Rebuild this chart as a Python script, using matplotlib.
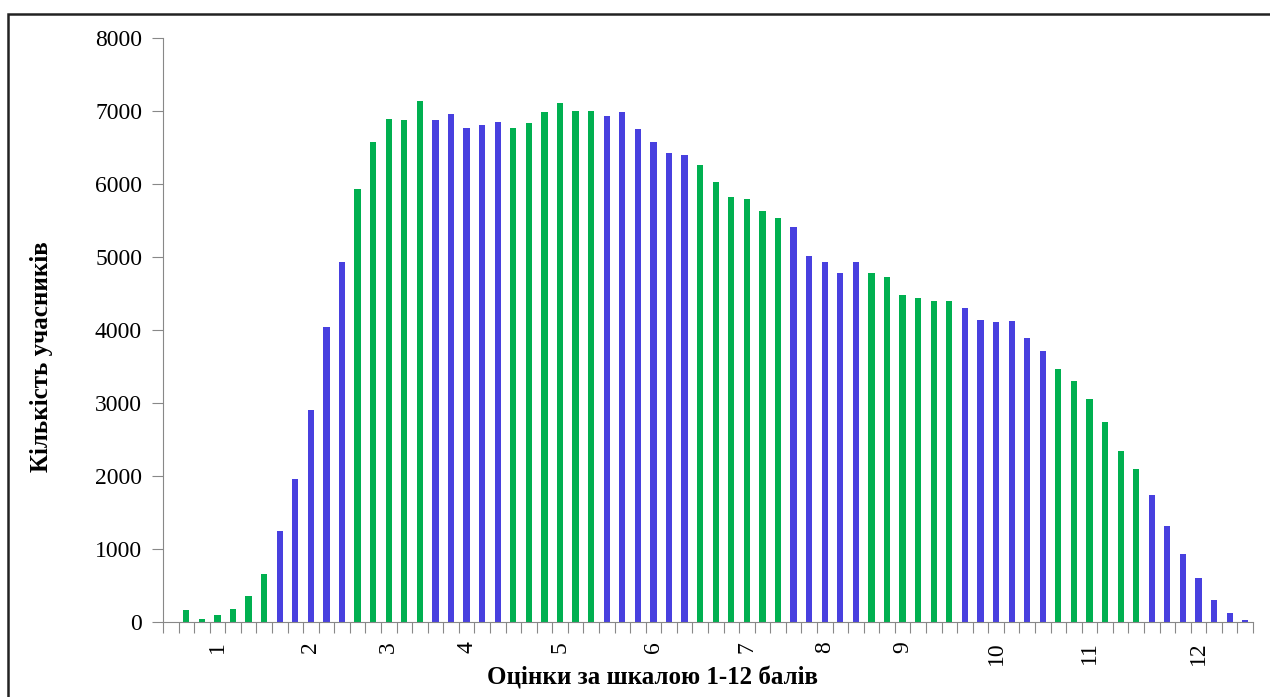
import matplotlib.pyplot as plt
from matplotlib.patches import Rectangle

# number of participants per test-score category (70 categories)
counts = [0, 164, 45, 96, 178, 355, 650,
          1250, 1960, 2905, 4037, 4936,
          5927, 6575, 6886, 6872, 7137,
          6872, 6959, 6767, 6813, 6854,
          6767, 6840, 6986, 7105, 7000, 7000,
          6927, 6986, 6749, 6571, 6425, 6397,
          6265, 6027, 5822, 5795, 5630, 5530,
          5411, 5014, 4936, 4776, 4927,
          4776, 4730, 4479, 4434, 4393, 4393,
          4301, 4141, 4114, 4128, 3890, 3712,
          3466, 3301, 3050, 2740, 2342, 2087,
          1735, 1315, 930, 600, 300, 115, 20]

# how many categories fall into each grade 1..12
group_sizes = [7, 5, 5, 5, 6, 6, 6, 5, 6, 6, 6, 7]
grades = ['1', '2', '3', '4', '5', '6', '7', '8', '9', '10', '11', '12']
# category (1-based) where each grade label is shown
label_pos = [4, 10, 15, 20, 26, 32, 38, 43, 48, 54, 60, 67]

green = '#00B050'
blue = '#4840DF'

colors = []
for i, n in enumerate(group_sizes):
    colors += [green if i % 2 == 0 else blue] * n

plt.rcParams['font.family'] = ['Liberation Serif', 'DejaVu Serif']

fig = plt.figure(figsize=(12.7, 6.97), dpi=100)
ax = fig.add_axes([0.1283, 0.1079, 0.8583, 0.8376])

x = list(range(len(counts)))
ax.bar(x, counts, width=0.4, color=colors, edgecolor='none')

ax.set_xlim(-0.5, len(counts) - 0.5)
ax.set_ylim(0, 8000)
ax.set_yticks(range(0, 8001, 1000))
ax.tick_params(axis='y', labelsize=17, length=8, color='#888888', pad=7)

# ticks at category boundaries, labels at category centres
ax.set_xticks([i - 0.5 for i in range(len(counts) + 1)])
ax.set_xticklabels([])
ax.tick_params(axis='x', which='major', length=8, color='#888888')
ax.set_xticks([p - 1 for p in label_pos], minor=True)
ax.set_xticklabels(grades, minor=True, rotation=90, fontsize=17)
ax.tick_params(axis='x', which='minor', length=0, pad=14)

for s in ['top', 'right']:
    ax.spines[s].set_visible(False)
for s in ['left', 'bottom']:
    ax.spines[s].set_color('#888888')

ax.set_ylabel('Кількість учасників', fontsize=18, fontweight='bold',
              ha='center', va='center')
ax.yaxis.set_label_coords(-0.111, 0.454)
ax.set_xlabel('Оцінки за шкалою 1-12 балів', fontsize=18, fontweight='bold',
              ha='center', va='center')
ax.xaxis.set_label_coords(0.449, -0.097)

# outer frame of the chart area
fig.patches.append(Rectangle((7.5 / 1270, -0.2), 2.0, 1.2 - 13.5 / 697,
                             transform=fig.transFigure, fill=False,
                             edgecolor='#222222', linewidth=1.8))

plt.savefig('out.png', dpi=100)
